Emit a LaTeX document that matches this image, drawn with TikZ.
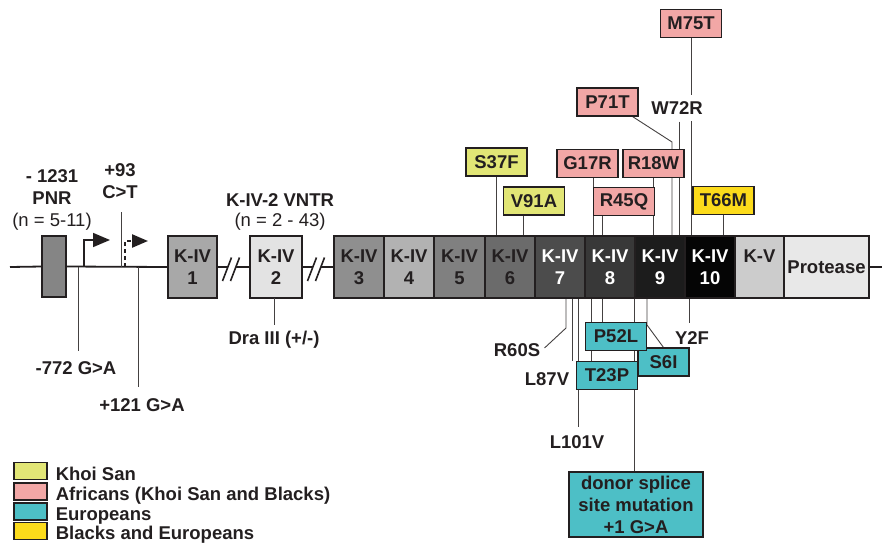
\documentclass[tikz,border=0pt]{standalone}
\usepackage{fontspec}
\setmainfont{Liberation Sans}
\usetikzlibrary{arrows.meta,positioning,backgrounds}

\definecolor{ink}{HTML}{231F20}
\definecolor{khoisan}{HTML}{E2E676}
\definecolor{african}{HTML}{F2A7A6}
\definecolor{european}{HTML}{4DBFC6}
\definecolor{blackeur}{HTML}{FCDB1B}

\begin{document}
\begin{tikzpicture}[x=1pt,y=-1pt,
  font=\fontsize{18.5}{22}\selectfont\bfseries, text=ink,
  kbox/.style={draw=ink,line width=1.8pt,minimum height=62pt,inner sep=0pt,outer sep=0pt,align=center},
  mut/.style={draw=ink,line width=1.1pt,minimum width=61pt,minimum height=28pt,inner sep=0pt},
  lbl/.style={inner sep=2pt,align=center},
  tick/.style={draw=ink!85,line width=0.9pt},
  mainline/.style={draw=ink,line width=1.8pt},
  legkey/.style={draw=ink,line width=1.1pt,minimum width=33pt,minimum height=17pt,inner sep=0pt}]

\useasboundingbox (0,0) rectangle (882,543);

% promoter and the first two kringles
\node[kbox,fill=black!48,minimum width=24pt,minimum height=61pt] (pnr) at (54,266.5) {};
\node[kbox,fill=black!34,minimum width=49pt] (kiv1) at (192.5,267) {K-IV\\1};
\node[kbox,fill=black!11,minimum width=52pt] (kiv2) at (276,267) {K-IV\\2};

% kringle row
\node[kbox,fill=black!44,minimum width=50pt] (kiv3) at (359,267) {K-IV\\3};
\node[kbox,fill=black!30,minimum width=50pt,right=0pt of kiv3] (kiv4) {K-IV\\4};
\node[kbox,fill=black!50,minimum width=51pt,right=0pt of kiv4] (kiv5) {K-IV\\5};
\node[kbox,fill=black!58,minimum width=50pt,right=0pt of kiv5] (kiv6) {K-IV\\6};
\node[kbox,fill=black!70,text=white,minimum width=50pt,right=0pt of kiv6] (kiv7) {K-IV\\7};
\node[kbox,fill=black!78,text=white,minimum width=50pt,right=0pt of kiv7] (kiv8) {K-IV\\8};
\node[kbox,fill=black!89,text=white,minimum width=50pt,right=0pt of kiv8] (kiv9) {K-IV\\9};
\node[kbox,fill=black!98,text=white,minimum width=50pt,right=0pt of kiv9] (kiv10) {K-IV\\10};
\node[kbox,fill=black!20,minimum width=49pt,right=0pt of kiv10] (kv) {K-V\\\vphantom{1}};
\node[kbox,fill=black!9,minimum width=85pt,right=0pt of kv] (prot) {Protease};

% backbone with breaks
\coordinate (lend) at (10,267);
\coordinate (rend) at (882,267);
\coordinate (brk1a) at (228,267);
\coordinate (brk1b) at (236,267);
\coordinate (brk2a) at (313,267);
\coordinate (brk2b) at (321,267);
\draw[mainline] (lend) -- (pnr.west);
\draw[mainline] (pnr.east) -- (kiv1.west);
\draw[mainline] (kiv1.east) -- (brk1a);
\draw[mainline] (brk1b) -- (kiv2.west);
\draw[mainline] (kiv2.east) -- (brk2a);
\draw[mainline] (brk2b) -- (kiv3.west);
\draw[mainline] (prot.east) -- (rend);
\draw[ink,line width=1.6pt] (222.5,281) -- (231.5,257.5) (230.5,281) -- (239.5,257.5);
\draw[ink,line width=1.6pt] (307.5,281) -- (316.5,257.5) (315.5,281) -- (324.5,257.5);

% transcription starts
\coordinate (tss) at (84,267);
\coordinate (tss2) at (125,267);
\draw[ink,line width=1.6pt,-{Triangle[length=17pt,width=14pt]}] (tss) |- (110,240);
\draw[ink,line width=2.4pt,dash pattern=on 4pt off 3pt,-{Triangle[length=16pt,width=13pt]}] (tss2) |- (148,241);

% promoter labels
\node[lbl] (pnrlbl) at (52,199.5) {- 1231\\PNR\\{\mdseries (n = 5-11)}};
\node[lbl] (c93) at (120,181.5) {+93\\C>T};
\node[lbl] (vntr) at (280,212) {K-IV-2 VNTR\\[-2pt]{\mdseries (n = 2 - 43)}};
\node[lbl] (dra) at (274,340) {Dra III (+/-)};
\node[lbl] (g772) at (76,368) {-772 G>A};
\node[lbl] (g121) at (142,405) {+121 G>A};

\coordinate (p93) at (121,267);
\coordinate (p772) at (78,267);
\coordinate (p121) at (138,267);
\draw[tick] (p93) -- ++(0,-55);
\draw[tick,shorten >=8pt] (p772) -- (p772 |- g772.north);
\draw[tick,shorten >=9pt] (p121) -- (p121 |- g121.north);
\draw[tick,shorten >=4pt] (dra.north |- kiv2.south) -- (dra.north);

% mutations above
\node[mut,fill=khoisan] (s37f) at (496.5,162) {S37F};
\node[mut,fill=khoisan] (v91a) at (534,201) {V91A};
\node[mut,fill=african] (g17r) at (587.5,163.5) {G17R};
\node[mut,fill=african] (r45q) at (624,201.5) {R45Q};
\node[mut,fill=african] (r18w) at (653.5,163.5) {R18W};
\node[mut,fill=african] (p71t) at (607.5,102) {P71T};
\node[mut,fill=african] (m75t) at (691,23.5) {M75T};
\node[mut,fill=blackeur] (t66m) at (723.5,200.5) {T66M};
\node[lbl,fill=white,inner ysep=7pt] (w72r) at (677,108) {W72R};
\coordinate (p71bend) at (672,142);

% mutations below
\node[lbl] (r60s) at (517,350) {R60S};
\node[lbl] (l87v) at (547,379) {L87V};
\node[lbl] (l101v) at (577,442) {L101V};
\node[lbl] (y2f) at (692,338) {Y2F};
\node[mut,fill=european,minimum width=51pt] (s6i) at (663.5,362) {S6I};
\node[mut,fill=european] (p52l) at (616,336.5) {P52L};
\node[mut,fill=european] (t23p) at (607,375.5) {T23P};
\node[mut,fill=european,minimum width=134pt,minimum height=65pt,align=center] (donor) at (636,504.5) {donor splice\\site mutation\\+1 G>A};

\begin{scope}[on background layer]
\draw[tick] (s37f.south) -- (s37f.south |- kiv6.north);
\draw[tick] ([xshift=-11pt]v91a.south) -- ([xshift=-11pt]v91a.south |- kiv6.north);
\draw[tick] ([xshift=5.5pt]g17r.south) -- ([xshift=5.5pt]g17r.south |- kiv8.north);
\draw[tick] ([xshift=-22pt]r45q.south) -- ([xshift=-22pt]r45q.south |- kiv8.north);
\draw[tick] (r18w.south) -- (r18w.south |- kiv9.north);
\draw[tick] ([xshift=25pt]p71t.south) -- (p71bend) -- (p71bend |- kiv9.north);
\draw[tick] (m75t.south) -- (m75t.south |- kiv10.north);
\draw[tick] ([xshift=2pt]w72r.south) -- ([xshift=2pt]w72r.south |- kiv9.north);
\draw[tick] (t66m.south) -- (t66m.south |- kiv10.north);

\draw[tick,shorten >=3pt] ([xshift=6pt]kiv7.south) -- ++(0,30) -- (r60s.east);
\draw[tick,shorten >=9pt] ([xshift=12pt]kiv7.south) -- ([xshift=12pt]kiv7.south |- l87v.north);
\draw[tick,shorten >=6pt] ([xshift=18pt]kiv7.south) -- ([xshift=18pt]kiv7.south |- l101v.north);
\draw[tick] ([xshift=-19pt]kiv8.south) -- ([xshift=-19pt]kiv8.south |- t23p.north);
\draw[tick] ([xshift=-8pt]kiv8.south) -- ([xshift=-8pt]kiv8.south |- p52l.north);
\draw[tick] ([xshift=24pt]kiv8.south) -- ([xshift=24pt]kiv8.south |- donor.north);
\draw[tick] ([xshift=-13pt]kiv9.south) -- ++(0,27) -- (s6i.north);
\draw[tick,shorten >=6pt] ([xshift=-21pt]kiv10.south) -- ([xshift=-21pt]kiv10.south |- y2f.north);
\end{scope}

% legend
\node[legkey,fill=khoisan] (lkhoi) at (30.5,471) {};
\node[legkey,fill=african] (lafr) at (30.5,491.5) {};
\node[legkey,fill=european] (leur) at (30.5,511.5) {};
\node[legkey,fill=blackeur] (lbe) at (30.5,531) {};
\node[lbl,anchor=base west] (tkhoi) at ([xshift=6pt]lkhoi.south east) {Khoi San};
\node[lbl,anchor=base west] (tafr) at ([xshift=6pt]lafr.south east) {Africans (Khoi San and Blacks)};
\node[lbl,anchor=base west] (teur) at ([xshift=6pt]leur.south east) {Europeans};
\node[lbl,anchor=base west] (tbe) at ([xshift=6pt,yshift=1pt]lbe.south east) {Blacks and Europeans};

\end{tikzpicture}
\end{document}
